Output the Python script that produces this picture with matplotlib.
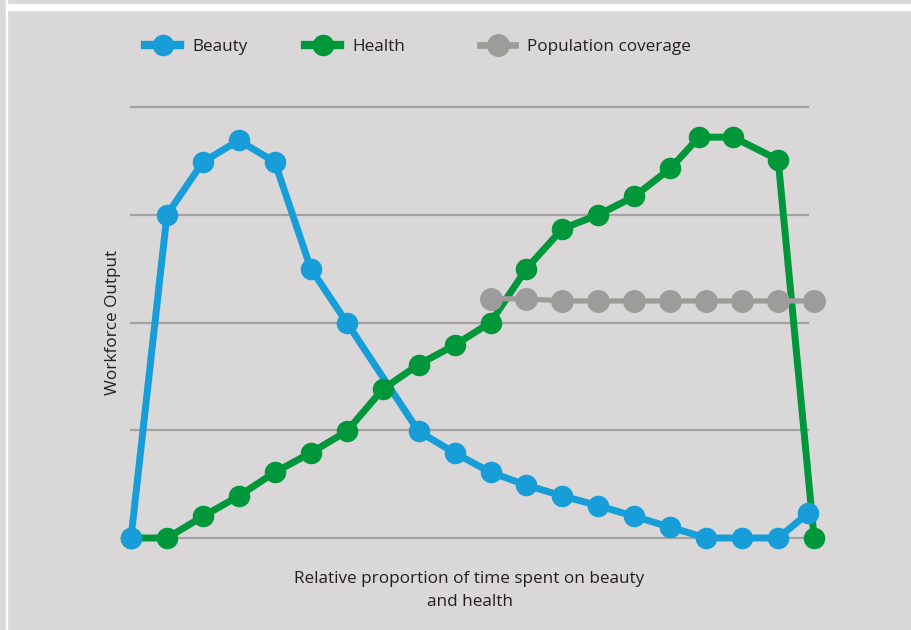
import matplotlib.pyplot as plt
from matplotlib.lines import Line2D
from matplotlib.patches import Rectangle

plt.rcParams['font.family'] = ['Open Sans', 'DejaVu Sans']

# data (gridline spacing = 1 unit)
beauty_x = [0, 1, 2, 3, 4, 5, 6, 8, 9, 10, 11, 12, 13, 14, 15, 16, 17, 18, 18.83]
beauty_y = [0, 3.0, 3.49, 3.69, 3.49, 2.5, 2.0, 0.99, 0.79, 0.61, 0.49, 0.39,
            0.30, 0.20, 0.10, 0, 0, 0, 0.23]

health_x = [0, 1, 2, 3, 4, 5, 6, 7, 8, 9, 10, 11, 12, 13, 14, 15, 15.8, 16.75, 18, 19]
health_y = [0, 0, 0.20, 0.39, 0.61, 0.79, 0.99, 1.38, 1.61, 1.79, 2.0, 2.5,
            2.87, 3.0, 3.17, 3.43, 3.72, 3.72, 3.51, 0]

pop_x = [10, 11, 12, 13, 14, 15, 16, 17, 18, 19]
pop_y = [2.22, 2.22, 2.2, 2.2, 2.2, 2.2, 2.2, 2.2, 2.2, 2.2]

grid_y = [0, 1, 2, 3, 4]

blue = '#179ed9'
green = '#00973b'
grey = '#9d9c9a'
bg = '#d9d7d8'
txt = '#231f20'

fig = plt.figure(figsize=(9.11, 6.30), dpi=100, facecolor=bg)
ax = fig.add_axes([131 / 911, (630 - 538) / 630, 677 / 911, 431 / 630])
ax.set_facecolor(bg)
ax.set_xlim(0, 18.83)
ax.set_ylim(0, 4)

for g in grid_y:
    ax.axhline(g, color='#a3a1a1', lw=1.6, zorder=1, clip_on=False)

series = [
    (beauty_x, beauty_y, blue, 5.0, 14.5, 'Beauty'),
    (health_x, health_y, green, 5.0, 14.5, 'Health'),
    (pop_x, pop_y, grey, 3.8, 15.5, 'Population coverage'),
]

# lines first, then markers (green below blue, grey on top)
for x, y, c, lw, ms, lab in series:
    ax.plot(x, y, color=c, lw=lw, zorder=2, clip_on=False, solid_capstyle='butt')
for x, y, c, lw, ms, lab in [series[1], series[0], series[2]]:
    ax.plot(x, y, 'o', color=c, ms=ms, mec=c, zorder=3, clip_on=False)

for sp in ax.spines.values():
    sp.set_visible(False)
ax.set_xticks([])
ax.set_yticks([])

ax.set_xlabel('Relative proportion of time spent on beauty\nand health',
              fontsize=12.3, color=txt, labelpad=24, linespacing=1.55)
ax.set_ylabel('Workforce Output', fontsize=12.3, color=txt, labelpad=7)

# legend, one entry per series
leg_x = [145 / 911, 305 / 911, 480 / 911]
for (x, y, c, lw, ms, lab), lx in zip(series, leg_x):
    h = Line2D([], [], color=c, lw=lw + 1.0, marker='o', ms=ms, mec=c)
    fig.legend([h], [lab], loc='center left', bbox_to_anchor=(lx, 1 - 47 / 630),
               frameon=False, fontsize=12.3, handlelength=2.05, handletextpad=0.7,
               borderaxespad=0, borderpad=0, labelcolor=txt)

# white frame strips
fig.patches.append(Rectangle((6 / 911, 1 - 10 / 630), 1, 6 / 630,
                             transform=fig.transFigure, color='white', zorder=0))
fig.patches.append(Rectangle((6 / 911, 0), 1.2 / 911, 1, transform=fig.transFigure,
                             color='white', zorder=0))

fig.savefig('out.png', dpi=100, facecolor=bg)
